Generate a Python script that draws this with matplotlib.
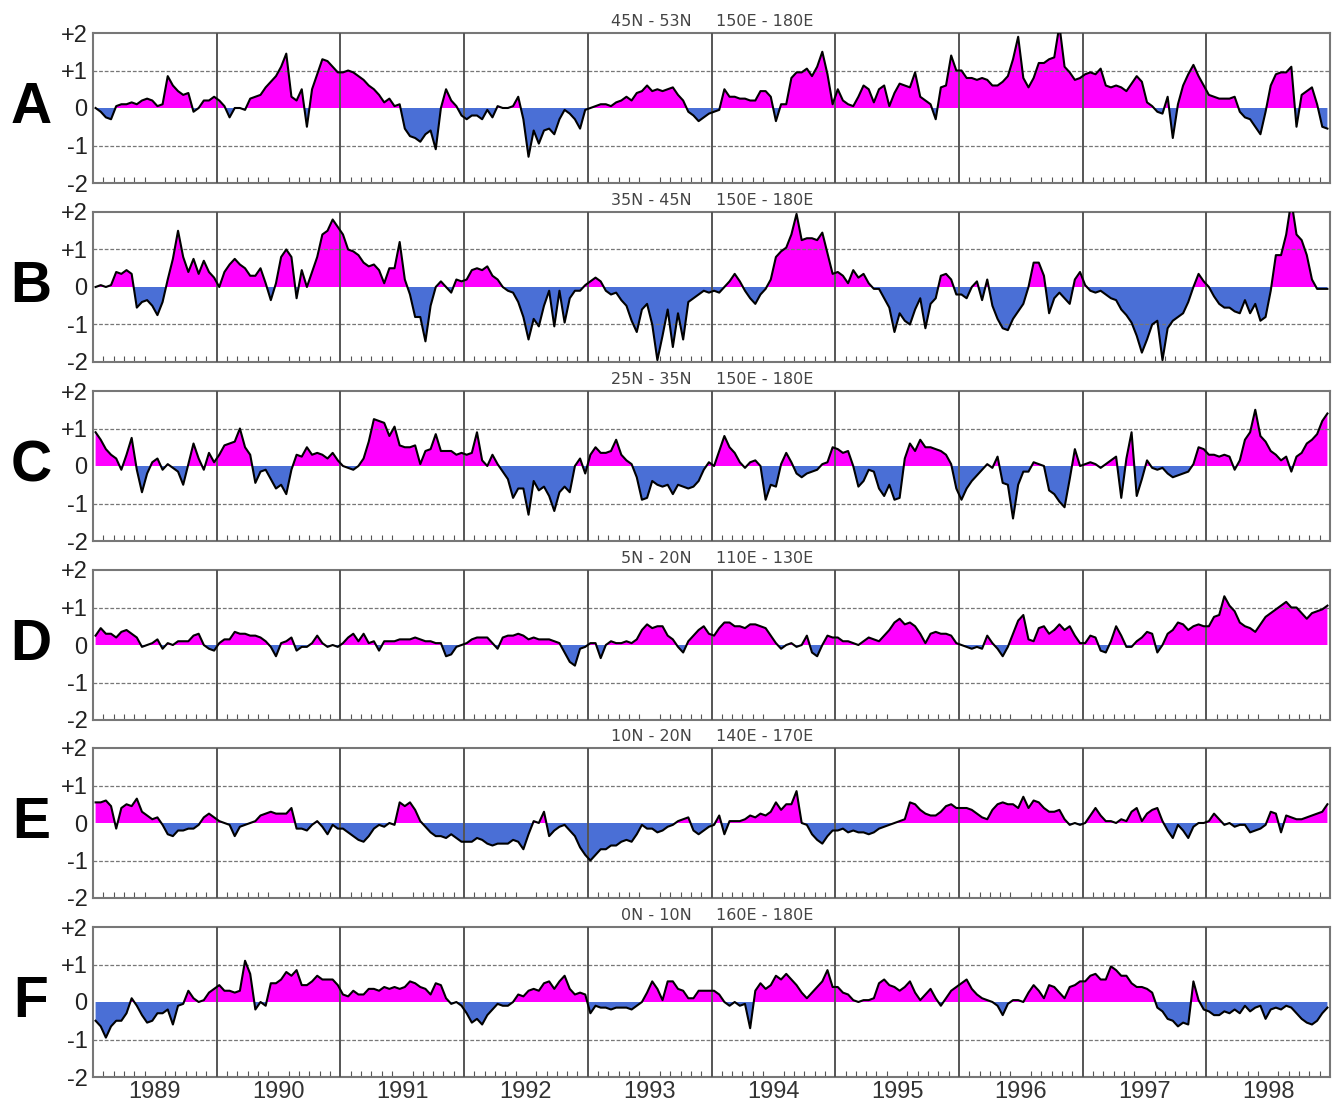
import numpy as np
import matplotlib
matplotlib.use("Agg")
import matplotlib.pyplot as plt
from matplotlib.ticker import FixedLocator

plt.rcParams['font.family'] = ['Liberation Sans', 'DejaVu Sans']

# semi-monthly anomalies, one row per year 1989..1998 (24 values per row)
years = list(range(1989, 1999))

a_vals = [
    [0.0, -0.1, -0.25, -0.3, 0.05, 0.1, 0.1, 0.15, 0.1, 0.2, 0.25, 0.2, 0.05, 0.1, 0.85, 0.6, 0.45, 0.35, 0.4, -0.1, 0.0, 0.2, 0.2, 0.3],
    [0.2, 0.05, -0.25, 0.0, 0.0, -0.05, 0.25, 0.3, 0.35, 0.55, 0.7, 0.85, 1.1, 1.45, 0.3, 0.2, 0.5, -0.5, 0.5, 0.9, 1.3, 1.25, 1.1, 0.95],
    [0.95, 1.0, 0.95, 0.85, 0.75, 0.6, 0.5, 0.35, 0.15, 0.25, 0.05, 0.1, -0.55, -0.75, -0.8, -0.9, -0.7, -0.6, -1.1, 0.0, 0.5, 0.2, 0.05, -0.2],
    [-0.3, -0.2, -0.2, -0.3, -0.05, -0.25, 0.05, 0.0, 0.0, 0.05, 0.3, -0.3, -1.3, -0.6, -0.95, -0.6, -0.55, -0.7, -0.3, -0.05, -0.15, -0.3, -0.55, -0.05],
    [0.0, 0.05, 0.1, 0.1, 0.05, 0.15, 0.2, 0.3, 0.2, 0.4, 0.45, 0.6, 0.45, 0.5, 0.45, 0.5, 0.55, 0.35, 0.2, -0.1, -0.2, -0.35, -0.25, -0.15],
    [-0.1, -0.05, 0.5, 0.3, 0.3, 0.25, 0.25, 0.2, 0.2, 0.45, 0.45, 0.3, -0.35, 0.1, 0.1, 0.8, 0.95, 0.95, 1.05, 0.85, 1.1, 1.5, 0.9, 0.1],
    [0.5, 0.2, 0.1, 0.05, 0.3, 0.6, 0.5, 0.15, 0.5, 0.6, 0.05, 0.4, 0.65, 0.6, 0.55, 0.95, 0.3, 0.2, 0.1, -0.3, 0.55, 0.6, 1.4, 1.0],
    [1.0, 0.8, 0.8, 0.75, 0.8, 0.75, 0.6, 0.6, 0.7, 0.85, 1.3, 1.9, 0.8, 0.55, 0.8, 1.2, 1.2, 1.3, 1.35, 2.2, 1.1, 0.95, 0.75, 0.8],
    [0.9, 0.95, 0.9, 1.05, 0.6, 0.55, 0.6, 0.55, 0.45, 0.65, 0.85, 0.7, 0.15, 0.05, -0.1, -0.15, 0.3, -0.8, 0.1, 0.6, 0.9, 1.15, 0.85, 0.6],
    [0.35, 0.3, 0.25, 0.25, 0.25, 0.3, -0.1, -0.25, -0.3, -0.5, -0.7, -0.1, 0.6, 0.9, 0.95, 0.95, 1.1, -0.5, 0.35, 0.45, 0.55, 0.1, -0.5, -0.55],
]

b_vals = [
    [0.0, 0.05, 0.0, 0.05, 0.4, 0.35, 0.45, 0.35, -0.55, -0.4, -0.35, -0.5, -0.75, -0.4, 0.2, 0.75, 1.5, 0.8, 0.4, 0.75, 0.35, 0.7, 0.4, 0.25],
    [0.0, 0.4, 0.6, 0.75, 0.6, 0.5, 0.3, 0.3, 0.5, 0.1, -0.35, 0.1, 0.8, 1.0, 0.8, -0.3, 0.45, 0.0, 0.4, 0.8, 1.4, 1.5, 1.8, 1.6],
    [1.4, 1.0, 0.95, 0.85, 0.65, 0.55, 0.6, 0.45, 0.1, 0.5, 0.5, 1.2, 0.2, -0.2, -0.8, -0.8, -1.45, -0.5, 0.0, 0.15, 0.0, -0.15, 0.2, 0.15],
    [0.2, 0.45, 0.5, 0.45, 0.55, 0.3, 0.2, 0.0, -0.1, -0.15, -0.4, -0.8, -1.4, -0.85, -1.05, -0.5, -0.1, -1.05, -0.1, -0.95, -0.3, -0.1, -0.1, 0.05],
    [0.15, 0.25, 0.15, -0.1, -0.2, -0.15, -0.35, -0.5, -0.9, -1.2, -0.6, -0.45, -1.0, -1.95, -1.3, -0.6, -1.6, -0.7, -1.4, -0.4, -0.3, -0.2, -0.1, -0.15],
    [-0.1, -0.15, 0.0, 0.15, 0.35, 0.15, -0.1, -0.3, -0.45, -0.2, -0.05, 0.2, 0.8, 0.95, 1.05, 1.4, 1.95, 1.25, 1.3, 1.3, 1.25, 1.45, 0.9, 0.35],
    [0.4, 0.3, 0.1, 0.45, 0.25, 0.35, 0.1, -0.05, -0.05, -0.3, -0.55, -1.2, -0.7, -0.9, -1.0, -0.6, -0.3, -1.1, -0.45, -0.3, 0.3, 0.35, 0.2, -0.2],
    [-0.2, -0.3, 0.0, 0.15, -0.35, 0.2, -0.5, -0.85, -1.1, -1.15, -0.85, -0.65, -0.45, 0.0, 0.65, 0.65, 0.3, -0.7, -0.3, -0.15, -0.3, -0.45, 0.2, 0.4],
    [0.05, -0.1, -0.15, -0.1, -0.2, -0.3, -0.35, -0.6, -0.75, -0.95, -1.3, -1.75, -1.4, -1.0, -0.9, -1.95, -1.1, -0.9, -0.8, -0.7, -0.4, 0.0, 0.35, 0.15],
    [0.0, -0.25, -0.45, -0.55, -0.55, -0.65, -0.7, -0.35, -0.7, -0.45, -0.9, -0.8, -0.1, 0.85, 0.85, 1.4, 2.3, 1.4, 1.25, 0.85, 0.2, -0.05, -0.05, -0.05],
]

c_vals = [
    [0.9, 0.7, 0.45, 0.3, 0.2, -0.1, 0.3, 0.75, -0.1, -0.7, -0.2, 0.1, 0.2, -0.1, 0.05, -0.05, -0.15, -0.5, 0.05, 0.6, 0.2, -0.1, 0.35, 0.1],
    [0.3, 0.55, 0.6, 0.65, 1.0, 0.5, 0.3, -0.45, -0.15, -0.1, -0.35, -0.6, -0.5, -0.75, -0.1, 0.3, 0.25, 0.5, 0.3, 0.35, 0.3, 0.2, 0.35, 0.15],
    [0.0, -0.05, -0.1, 0.0, 0.2, 0.65, 1.25, 1.2, 1.15, 0.8, 1.05, 0.55, 0.5, 0.5, 0.55, 0.05, 0.4, 0.45, 0.85, 0.4, 0.4, 0.4, 0.3, 0.35],
    [0.3, 0.35, 0.9, 0.15, 0.0, 0.3, 0.05, -0.15, -0.35, -0.85, -0.6, -0.6, -1.3, -0.4, -0.65, -0.55, -0.8, -1.2, -0.7, -0.55, -0.7, 0.0, 0.2, -0.2],
    [0.3, 0.5, 0.35, 0.35, 0.4, 0.7, 0.3, 0.15, 0.05, -0.3, -0.9, -0.85, -0.4, -0.5, -0.55, -0.5, -0.75, -0.5, -0.55, -0.6, -0.55, -0.4, -0.1, 0.1],
    [0.0, 0.4, 0.8, 0.5, 0.35, 0.1, -0.05, 0.1, 0.15, 0.0, -0.9, -0.5, -0.55, 0.05, 0.35, 0.1, -0.2, -0.3, -0.2, -0.15, -0.1, 0.05, 0.1, 0.5],
    [0.45, 0.35, 0.4, 0.0, -0.55, -0.4, -0.1, -0.15, -0.6, -0.8, -0.5, -0.9, -0.85, 0.2, 0.6, 0.4, 0.7, 0.5, 0.5, 0.45, 0.4, 0.3, 0.05, -0.6],
    [-0.9, -0.6, -0.4, -0.25, -0.1, 0.05, -0.05, 0.25, -0.45, -0.5, -1.4, -0.5, -0.15, -0.15, 0.1, 0.05, 0.0, -0.65, -0.75, -0.95, -1.1, -0.35, 0.45, 0.0],
    [0.05, 0.1, 0.05, -0.05, 0.05, 0.15, 0.25, -0.85, 0.2, 0.9, -0.8, -0.35, 0.15, -0.05, -0.1, -0.05, -0.2, -0.3, -0.25, -0.2, -0.15, 0.05, 0.5, 0.45],
    [0.3, 0.3, 0.25, 0.3, 0.25, -0.1, 0.15, 0.7, 0.9, 1.5, 0.8, 0.65, 0.4, 0.3, 0.15, 0.25, -0.15, 0.25, 0.35, 0.6, 0.7, 0.85, 1.2, 1.4],
]

d_vals = [
    [0.25, 0.45, 0.3, 0.3, 0.2, 0.35, 0.4, 0.3, 0.2, -0.05, 0.0, 0.05, 0.15, -0.1, 0.05, 0.0, 0.1, 0.1, 0.1, 0.25, 0.3, 0.0, -0.1, -0.15],
    [0.05, 0.15, 0.15, 0.35, 0.3, 0.3, 0.25, 0.25, 0.2, 0.1, -0.05, -0.3, 0.05, 0.1, 0.2, -0.15, -0.05, -0.05, 0.05, 0.25, 0.05, -0.05, 0.0, -0.05],
    [0.05, 0.2, 0.3, 0.1, 0.3, 0.05, 0.1, -0.15, 0.1, 0.1, 0.1, 0.15, 0.15, 0.15, 0.2, 0.15, 0.1, 0.1, 0.05, 0.05, -0.3, -0.25, -0.05, 0.0],
    [0.05, 0.15, 0.2, 0.2, 0.2, 0.05, -0.1, 0.2, 0.25, 0.25, 0.3, 0.25, 0.15, 0.2, 0.15, 0.15, 0.15, 0.1, 0.05, -0.2, -0.45, -0.55, -0.1, -0.05],
    [0.05, 0.05, -0.35, 0.0, 0.1, 0.05, 0.05, 0.1, 0.05, 0.15, 0.4, 0.55, 0.45, 0.5, 0.5, 0.25, 0.15, -0.05, -0.2, 0.1, 0.25, 0.4, 0.5, 0.3],
    [0.25, 0.45, 0.6, 0.6, 0.5, 0.5, 0.45, 0.55, 0.55, 0.5, 0.45, 0.25, 0.05, -0.1, 0.0, 0.05, -0.05, 0.0, 0.25, -0.2, -0.3, 0.0, 0.25, 0.2],
    [0.2, 0.1, 0.1, 0.05, 0.0, 0.1, 0.2, 0.15, 0.1, 0.25, 0.4, 0.6, 0.7, 0.55, 0.6, 0.5, 0.3, 0.05, 0.3, 0.35, 0.3, 0.3, 0.25, 0.05],
    [0.0, -0.05, -0.1, -0.05, -0.1, 0.25, 0.05, -0.1, -0.3, -0.05, 0.3, 0.65, 0.8, 0.15, 0.1, 0.45, 0.5, 0.3, 0.4, 0.55, 0.4, 0.5, 0.25, 0.05],
    [0.05, 0.25, 0.2, -0.15, -0.2, 0.1, 0.5, 0.25, -0.05, -0.05, 0.1, 0.2, 0.35, 0.3, -0.2, 0.0, 0.3, 0.4, 0.6, 0.55, 0.4, 0.5, 0.55, 0.5],
    [0.5, 0.75, 0.8, 1.3, 1.05, 0.9, 0.6, 0.5, 0.45, 0.35, 0.55, 0.75, 0.85, 0.95, 1.05, 1.15, 1.0, 1.0, 0.85, 0.7, 0.85, 0.9, 0.95, 1.05],
]

e_vals = [
    [0.55, 0.55, 0.6, 0.45, -0.15, 0.4, 0.5, 0.45, 0.65, 0.3, 0.2, 0.1, 0.15, -0.05, -0.3, -0.35, -0.2, -0.2, -0.15, -0.15, -0.05, 0.15, 0.25, 0.15],
    [0.05, 0.0, -0.05, -0.35, -0.1, -0.05, 0.0, 0.05, 0.2, 0.25, 0.3, 0.25, 0.25, 0.25, 0.4, -0.15, -0.15, -0.2, -0.05, 0.05, -0.1, -0.3, -0.05, -0.15],
    [-0.15, -0.25, -0.35, -0.45, -0.5, -0.35, -0.15, -0.05, -0.1, 0.0, -0.05, 0.55, 0.45, 0.55, 0.35, 0.05, -0.1, -0.25, -0.35, -0.35, -0.4, -0.3, -0.4, -0.5],
    [-0.5, -0.5, -0.4, -0.45, -0.55, -0.6, -0.55, -0.55, -0.55, -0.45, -0.5, -0.7, -0.3, 0.05, 0.0, 0.3, -0.35, -0.2, -0.1, -0.05, -0.2, -0.35, -0.65, -0.85],
    [-1.0, -0.85, -0.7, -0.7, -0.6, -0.6, -0.5, -0.45, -0.5, -0.3, -0.05, -0.15, -0.15, -0.25, -0.2, -0.1, -0.05, 0.05, 0.1, 0.15, -0.2, -0.3, -0.2, -0.1],
    [-0.05, 0.2, -0.3, 0.05, 0.05, 0.05, 0.1, 0.2, 0.15, 0.25, 0.2, 0.3, 0.55, 0.35, 0.5, 0.5, 0.85, 0.0, -0.05, -0.3, -0.45, -0.55, -0.35, -0.2],
    [-0.2, -0.15, -0.25, -0.2, -0.25, -0.25, -0.3, -0.25, -0.15, -0.1, -0.05, 0.0, 0.05, 0.1, 0.55, 0.5, 0.35, 0.25, 0.2, 0.2, 0.3, 0.45, 0.5, 0.4],
    [0.4, 0.4, 0.35, 0.25, 0.15, 0.1, 0.35, 0.5, 0.55, 0.5, 0.5, 0.4, 0.7, 0.4, 0.6, 0.55, 0.4, 0.3, 0.3, 0.35, 0.1, -0.05, 0.0, -0.05],
    [0.0, 0.2, 0.4, 0.2, 0.05, 0.05, 0.0, 0.1, 0.05, 0.3, 0.4, 0.05, 0.25, 0.35, 0.4, 0.05, -0.2, -0.4, -0.05, -0.2, -0.4, -0.1, 0.0, 0.0],
    [0.05, 0.25, 0.1, -0.05, 0.0, -0.1, -0.05, -0.05, -0.25, -0.2, -0.15, -0.05, 0.3, 0.25, -0.25, 0.2, 0.15, 0.1, 0.1, 0.15, 0.2, 0.25, 0.3, 0.5],
]

f_vals = [
    [-0.5, -0.65, -0.95, -0.65, -0.5, -0.5, -0.3, 0.1, -0.1, -0.35, -0.55, -0.5, -0.3, -0.3, -0.2, -0.6, -0.1, -0.05, 0.3, 0.1, 0.0, 0.05, 0.25, 0.35],
    [0.45, 0.3, 0.3, 0.25, 0.3, 1.1, 0.75, -0.2, 0.0, -0.1, 0.5, 0.5, 0.6, 0.8, 0.7, 0.85, 0.45, 0.45, 0.55, 0.7, 0.6, 0.6, 0.6, 0.45],
    [0.2, 0.15, 0.3, 0.2, 0.2, 0.35, 0.35, 0.3, 0.4, 0.35, 0.4, 0.35, 0.4, 0.55, 0.5, 0.4, 0.35, 0.2, 0.5, 0.45, 0.1, -0.05, 0.0, -0.1],
    [-0.3, -0.55, -0.45, -0.6, -0.35, -0.2, -0.05, -0.1, -0.1, 0.0, 0.2, 0.15, 0.3, 0.35, 0.3, 0.5, 0.55, 0.35, 0.55, 0.7, 0.35, 0.2, 0.25, 0.2],
    [-0.3, -0.1, -0.15, -0.15, -0.2, -0.15, -0.15, -0.15, -0.2, -0.1, 0.0, 0.25, 0.55, 0.35, 0.05, 0.55, 0.55, 0.35, 0.3, 0.1, 0.1, 0.3, 0.3, 0.3],
    [0.3, 0.2, 0.0, -0.1, 0.0, -0.1, -0.05, -0.7, 0.3, 0.5, 0.35, 0.45, 0.7, 0.6, 0.75, 0.6, 0.45, 0.25, 0.1, 0.25, 0.4, 0.55, 0.85, 0.4],
    [0.4, 0.25, 0.2, 0.05, 0.0, 0.05, 0.05, 0.1, 0.5, 0.6, 0.45, 0.4, 0.3, 0.4, 0.55, 0.25, 0.05, 0.2, 0.35, 0.1, -0.1, 0.1, 0.3, 0.4],
    [0.5, 0.6, 0.35, 0.2, 0.1, 0.05, 0.0, -0.1, -0.35, -0.05, 0.05, 0.05, 0.0, 0.25, 0.45, 0.3, 0.1, 0.45, 0.4, 0.25, 0.1, 0.4, 0.45, 0.55],
    [0.55, 0.7, 0.75, 0.6, 0.6, 0.95, 0.85, 0.7, 0.7, 0.5, 0.4, 0.4, 0.35, 0.25, -0.15, -0.25, -0.45, -0.5, -0.65, -0.55, -0.6, 0.55, 0.05, -0.2],
    [-0.25, -0.35, -0.35, -0.25, -0.3, -0.2, -0.3, -0.1, -0.25, -0.15, -0.1, -0.45, -0.2, -0.15, -0.2, -0.1, -0.15, -0.3, -0.45, -0.55, -0.6, -0.5, -0.3, -0.15],
]

panel_letters = ['A', 'B', 'C', 'D', 'E', 'F']
lat_text = ['45N - 53N', '35N - 45N', '25N - 35N', '5N - 20N', '10N - 20N', '0N - 10N']
lon_text = ['150E - 180E', '150E - 180E', '150E - 180E', '110E - 130E', '140E - 170E', '160E - 180E']
panel_data = [a_vals, b_vals, c_vals, d_vals, e_vals, f_vals]
ytick_vals = [-2, -1, 0, 1, 2]
ytick_text = ['-2', '-1', '0', '+1', '+2']

W, H = 1336, 1106
fig = plt.figure(figsize=(W / 100, H / 100), dpi=100)

tops = [33, 212, 391, 570, 748, 927]
left, right, ph = 93, 1330, 150

pos_col = '#ff00ff'
neg_col = '#4a6fd6'

for k, (letter, vals) in enumerate(zip(panel_letters, panel_data)):
    top = tops[k]
    ax = fig.add_axes([left / W, 1 - (top + ph) / H, (right - left) / W, ph / H])
    y = np.array(vals, dtype=float).ravel()
    x = 1989 + (np.arange(len(y)) + 0.5) / 24.0

    ax.fill_between(x, y, 0, where=y >= 0, interpolate=True, color=pos_col, lw=0)
    ax.fill_between(x, y, 0, where=y <= 0, interpolate=True, color=neg_col, lw=0)
    ax.plot(x, y, color='black', lw=1.5, zorder=4)

    for yy in [1, -1]:
        ax.axhline(yy, color='#777777', lw=0.9, ls=(0, (3, 1.5)), zorder=1)
    for yr in years[1:]:
        ax.axvline(yr, color='#555555', lw=1.4, zorder=3)

    ax.set_xlim(1989, 1999)
    ax.set_ylim(-2, 2)
    ax.set_yticks(ytick_vals)
    ax.set_yticklabels(ytick_text, fontsize=17, color='#222222')
    ax.tick_params(axis='y', length=0, pad=4)

    ax.xaxis.set_major_locator(FixedLocator([yr + 0.5 for yr in years]))
    ax.xaxis.set_minor_locator(FixedLocator([yr + m / 12 for yr in years for m in range(1, 12)]))
    ax.tick_params(axis='x', which='major', length=0, pad=3)
    ax.tick_params(axis='x', which='minor', direction='in', length=4, width=0.8, color='#555555')
    if k == len(panel_letters) - 1:
        ax.set_xticklabels([str(yr) for yr in years], fontsize=17, color='#333333')
    else:
        ax.set_xticklabels([])

    for s in ax.spines.values():
        s.set_color('#777777')
        s.set_linewidth(1.5)

    # region label above the panel, in two parts
    ty = 1 - (top - 4) / H
    fig.text(692 / W, ty, lat_text[k], ha='right', va='bottom',
             fontsize=11.5, color='#444444', family='DejaVu Sans')
    fig.text(716 / W, ty, lon_text[k], ha='left', va='bottom',
             fontsize=11.5, color='#444444', family='DejaVu Sans')
    fig.text(31 / W, 1 - (top + ph / 2) / H, letter, ha='center', va='center',
             fontsize=41, fontweight='bold', color='black')

fig.savefig('out.png', dpi=100, facecolor='white')
